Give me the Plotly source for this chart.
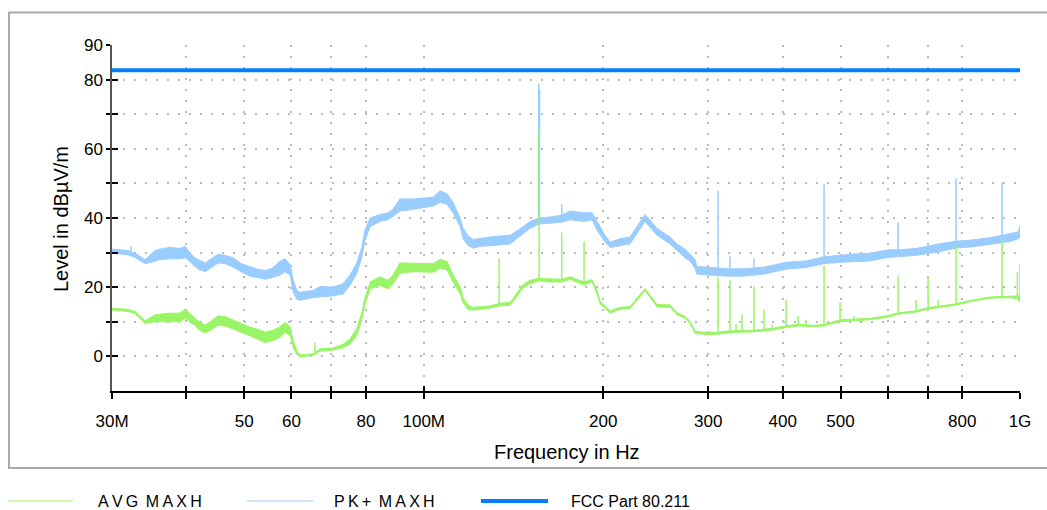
import math
import plotly.graph_objects as go

# ---------------- data ----------------
# PK+ MAXH trace: frequency (MHz), lower / upper edge of the noisy band (dBuV/m)
pk_freq = [30.0, 30.9, 31.9, 32.8, 34.1, 35.4, 36.1, 37.5, 39.0, 39.8,
           40.5, 41.3, 42.1, 43.0, 43.8, 45.2, 46.4, 47.9, 49.4, 51.1,
           52.7, 54.2, 55.7, 57.4, 58.5, 59.7, 60.4, 61.3, 62.0, 63.2,
           65.2, 67.0, 70.4, 73.2, 75.2, 77.2, 78.7, 79.7, 81.3, 84.5,
           87.1, 88.8, 91.2, 96.0, 99.7, 103.7, 106.5, 109.4, 112.0, 115.1,
           116.4, 118.7, 121.0, 124.3, 129.2, 134.3, 139.6, 146.8, 150.8, 154.9,
           157.3, 162.9, 170.4, 176.0, 185.7, 191.6, 195.3, 201.4, 205.4, 213.4,
           221.8, 235.0, 246.2, 258.9, 266.0, 274.3, 279.7, 285.2, 287.0, 300.0,
           311.6, 326.3, 341.8, 358.0, 372.0, 384.0, 405.0, 438.0, 469.0, 499.0,
           527.0, 560.0, 600.0, 625.0, 670.0, 729.0, 781.0, 825.0, 891.0, 933.0,
           962.0, 993.0, 1000.0]
pk_low = [29.8, 29.6, 29.4, 28.6, 26.8, 27.5, 28.0, 28.2, 28.2, 28.5,
          27.5, 26.0, 25.0, 24.5, 25.5, 27.0, 26.8, 25.8, 24.5, 23.2,
          22.8, 22.3, 22.8, 23.5, 24.5, 23.5, 18.5, 16.5, 16.2, 16.5,
          17.0, 17.2, 17.5, 18.0, 20.5, 24.0, 28.5, 33.5, 37.5, 39.0,
          39.5, 40.5, 42.0, 42.5, 43.0, 43.5, 44.5, 44.0, 41.5, 37.5,
          34.0, 32.0, 31.3, 31.8, 32.0, 32.3, 32.5, 35.5, 37.0, 38.0,
          38.3, 38.5, 38.8, 39.5, 39.0, 39.5, 36.5, 33.0, 31.5, 32.0,
          32.5, 39.0, 35.0, 32.5, 30.5, 28.5, 27.5, 25.5, 23.8, 23.5,
          23.3, 23.2, 23.2, 23.5, 23.8, 24.3, 25.2, 25.7, 26.8, 27.2,
          27.4, 27.6, 28.6, 28.8, 29.2, 30.2, 31.3, 31.6, 32.5, 33.0,
          33.2, 34.0, 34.4]
pk_high = [31.0, 30.8, 30.6, 29.8, 28.0, 30.5, 31.0, 31.5, 31.2, 31.8,
           30.0, 28.5, 27.8, 27.0, 28.0, 29.5, 29.2, 28.5, 26.8, 26.0,
           25.2, 24.8, 25.5, 27.5, 28.2, 26.5, 22.0, 19.0, 18.5, 18.8,
           19.0, 20.2, 20.0, 21.0, 23.5, 27.0, 31.5, 36.5, 40.0, 41.0,
           41.5, 42.5, 45.5, 45.5, 45.8, 46.0, 47.9, 47.0, 44.5, 40.0,
           37.0, 34.8, 33.8, 34.0, 34.5, 34.8, 35.0, 37.5, 39.0, 39.8,
           40.0, 40.3, 40.8, 42.0, 41.5, 41.5, 39.0, 35.0, 33.0, 34.0,
           34.5, 41.0, 37.0, 34.5, 32.5, 31.0, 29.5, 28.0, 26.0, 25.7,
           25.5, 25.3, 25.3, 25.5, 25.8, 26.3, 27.2, 27.6, 28.8, 29.2,
           29.6, 29.8, 30.8, 30.8, 31.2, 32.5, 33.3, 33.6, 34.3, 35.0,
           35.5, 36.0, 37.7]
# PK+ narrow spikes: frequency (MHz), foot and top level
pk_spike_freq = [32.3, 155.9, 156.4, 170.4, 311.6, 326.3, 358.0, 469.2, 624.5, 781.2, 933.0]
pk_spike_base = [30.4, 39.8, 39.8, 40.8, 25.5, 25.3, 25.5, 28.8, 30.8, 33.3, 35.0]
pk_spike_top = [31.8, 78.7, 77.0, 44.0, 47.9, 28.9, 28.3, 49.8, 38.7, 51.4, 50.3]

# AVG MAXH trace
avg_freq = [30.0, 30.9, 31.9, 32.8, 34.1, 35.4, 36.1, 37.5, 39.0, 39.8,
            40.5, 41.3, 42.1, 43.0, 43.8, 45.2, 46.4, 47.9, 49.4, 51.1,
            52.7, 54.2, 55.7, 57.4, 58.5, 59.7, 60.4, 61.3, 62.0, 63.2,
            65.2, 67.0, 70.4, 73.2, 75.2, 77.2, 78.7, 79.7, 81.3, 84.5,
            87.1, 88.8, 91.2, 96.0, 99.7, 103.7, 106.5, 109.4, 112.0, 115.1,
            116.4, 118.7, 121.0, 124.3, 129.2, 134.3, 139.6, 146.8, 150.8, 154.9,
            157.3, 162.9, 170.4, 176.0, 185.7, 191.6, 195.3, 197.6, 201.4, 205.4,
            213.4, 221.8, 235.0, 246.2, 258.9, 266.0, 274.3, 279.7, 285.2, 300.0,
            311.6, 326.3, 358.0, 384.0, 405.0, 424.0, 450.0, 469.0, 499.0, 527.0,
            560.0, 600.0, 625.0, 670.0, 701.0, 781.0, 825.0, 891.0, 962.0, 993.0,
            1000.0]
avg_low = [13.4, 13.3, 13.0, 12.3, 9.5, 10.0, 10.0, 10.2, 10.0, 11.0,
           10.0, 9.0, 7.5, 6.8, 7.5, 9.0, 8.8, 8.0, 7.0, 6.0,
           5.0, 4.0, 4.5, 5.5, 7.0, 6.0, 2.5, 0.5, -0.2, 0.0,
           0.3, 1.5, 1.8, 2.5, 3.5, 6.0, 10.5, 15.0, 19.5, 20.5,
           19.5, 21.0, 24.0, 24.5, 24.5, 24.3, 25.5, 25.0, 21.5, 18.0,
           15.5, 13.5, 13.4, 13.6, 14.0, 14.6, 14.8, 19.8, 21.0, 21.7,
           21.8, 21.5, 21.5, 22.3, 20.6, 21.5, 18.0, 15.2, 13.8, 12.5,
           13.6, 13.8, 19.0, 14.3, 14.2, 12.0, 11.0, 9.5, 6.6, 6.3,
           6.4, 6.9, 7.1, 7.6, 8.3, 8.8, 8.6, 8.8, 10.0, 10.3,
           10.6, 11.3, 12.2, 12.8, 13.7, 14.8, 15.8, 16.8, 17.0, 16.5,
           15.5]
avg_high = [13.9, 13.8, 13.6, 13.0, 10.3, 12.0, 12.2, 12.5, 12.5, 13.7,
            12.5, 11.0, 10.0, 9.0, 10.0, 11.7, 11.5, 10.5, 9.5, 8.5,
            7.8, 7.0, 7.5, 8.5, 9.8, 8.5, 4.5, 1.5, 0.5, 0.5,
            0.8, 2.2, 2.4, 3.5, 5.0, 8.0, 12.5, 17.0, 21.5, 23.0,
            22.0, 23.5, 27.0, 27.0, 27.0, 26.8, 28.1, 27.5, 23.5, 20.0,
            17.0, 14.8, 14.2, 14.3, 14.6, 15.4, 15.6, 20.8, 22.0, 22.5,
            22.5, 22.3, 22.3, 23.0, 21.5, 22.2, 19.0, 16.0, 14.6, 13.2,
            14.2, 14.4, 19.6, 15.0, 14.9, 12.6, 11.6, 10.1, 7.2, 6.9,
            7.0, 7.4, 7.6, 8.1, 8.8, 9.3, 9.0, 9.2, 10.6, 10.8,
            11.0, 11.8, 12.6, 13.2, 14.1, 15.2, 16.2, 17.2, 17.5, 17.5,
            17.5]
avg_spike_freq = [65.7, 133.8, 156.1, 170.4, 185.7, 311.6, 326.3, 334.0, 341.8, 358.0,
                  372.1, 383.8, 405.2, 424.4, 437.7, 469.2, 499.1, 526.8, 624.5, 669.5,
                  701.2, 728.9, 781.2, 933.0, 990.0, 1000.0]
avg_spike_base = [0.8, 14.6, 22.3, 22.3, 21.5, 7.0, 7.4, 7.4, 7.5, 7.6,
                  7.8, 8.1, 8.8, 9.3, 9.3, 9.2, 10.6, 10.8, 12.6, 13.2,
                  14.1, 14.3, 15.2, 17.3, 17.0, 16.5]
avg_spike_top = [4.0, 28.3, 65.7, 35.8, 33.1, 22.8, 22.0, 9.3, 12.2, 20.2,
                 13.4, 9.2, 16.3, 11.7, 10.6, 26.2, 15.6, 11.7, 23.1, 16.3,
                 22.6, 16.3, 32.0, 33.4, 24.4, 26.7]

# FCC limit line
fcc_freq = [30.0, 1000.0]
fcc_level = [82.7, 82.7]

# axes
x_tick_mhz = [30, 40, 50, 60, 70, 80, 100, 200, 300, 400, 500, 600, 700, 800, 1000]
x_tick_text = ["30M", "", "50", "60", "", "80", "100M", "200", "300", "400", "500", "", "", "800", "1G"]
y_tick_vals = [0, 10, 20, 30, 40, 50, 60, 70, 80, 90]
y_tick_text = ["0", "", "20", "", "40", "", "60", "", "80", "90"]

assert len(pk_freq) == len(pk_low) == len(pk_high)
assert len(avg_freq) == len(avg_low) == len(avg_high)
assert len(pk_spike_freq) == len(pk_spike_base) == len(pk_spike_top)
assert len(avg_spike_freq) == len(avg_spike_base) == len(avg_spike_top)

# ---------------- styling ----------------
BLUE = "#99ccff"
GREEN = "#99f566"
FCC = "#0080ff"
FONT = "Liberation Sans, Arial, sans-serif"
W, H = 1047, 510
L, R, T, B = 112, 27, 45, 119
PW, PH = W - L - R, H - T - B


def hz(v):
    return [f * 1e6 for f in v]


def px(xp):
    return (xp - L) / PW


def py(yp):
    return (H - B - yp) / PH


def spikes(freq, base, top):
    xs, ys = [], []
    for f, b, t in zip(freq, base, top):
        xs += [f * 1e6, f * 1e6, None]
        ys += [b, t, None]
    return xs, ys


fig = go.Figure()

# PK+ band
fig.add_trace(go.Scatter(x=hz(pk_freq), y=pk_low, mode="lines",
                         line=dict(color=BLUE, width=1), hoverinfo="skip", showlegend=False))
fig.add_trace(go.Scatter(x=hz(pk_freq), y=pk_high, mode="lines", fill="tonexty",
                         fillcolor=BLUE, line=dict(color=BLUE, width=1),
                         name="PK+ MAXH", showlegend=False))
sx, sy = spikes(pk_spike_freq, pk_spike_base, pk_spike_top)
fig.add_trace(go.Scatter(x=sx, y=sy, mode="lines", line=dict(color=BLUE, width=1.5),
                         hoverinfo="skip", showlegend=False))

# AVG band
fig.add_trace(go.Scatter(x=hz(avg_freq), y=avg_low, mode="lines",
                         line=dict(color=GREEN, width=1), hoverinfo="skip", showlegend=False))
fig.add_trace(go.Scatter(x=hz(avg_freq), y=avg_high, mode="lines", fill="tonexty",
                         fillcolor=GREEN, line=dict(color=GREEN, width=1),
                         name="AVG MAXH", showlegend=False))
sx, sy = spikes(avg_spike_freq, avg_spike_base, avg_spike_top)
fig.add_trace(go.Scatter(x=sx, y=sy, mode="lines", line=dict(color=GREEN, width=1.5),
                         hoverinfo="skip", showlegend=False))

# FCC limit
fig.add_trace(go.Scatter(x=hz(fcc_freq), y=fcc_level, mode="lines",
                         line=dict(color=FCC, width=4), name="FCC Part 80.211", showlegend=False))

# dummy trace for overlay axes (inner half of the crossing ticks)
fig.add_trace(go.Scatter(x=[None], y=[None], xaxis="x2", yaxis="y2",
                         showlegend=False, hoverinfo="skip"))

xr = [math.log10(30e6), math.log10(1e9)]
grid = dict(showgrid=True, gridcolor="#bcbcbc", gridwidth=2, griddash="2px,9px")

fig.update_layout(
    width=W, height=H,
    margin=dict(l=L, r=R, t=T, b=B),
    paper_bgcolor="white", plot_bgcolor="white",
    font=dict(family=FONT, size=17, color="black"),
    showlegend=False,
    xaxis=dict(type="log", range=xr, tickmode="array",
               tickvals=hz(x_tick_mhz), ticktext=x_tick_text,
               ticks="outside", ticklen=6, tickwidth=1.5, tickcolor="black",
               ticklabelstandoff=8,
               showline=True, linecolor="black", linewidth=1.5, zeroline=False,
               tickfont=dict(family=FONT, size=17), **grid),
    yaxis=dict(range=[-10, 90], tickmode="array", tickvals=y_tick_vals, ticktext=y_tick_text,
               ticks="outside", ticklen=4, tickwidth=1.5, tickcolor="black",
               showline=True, linecolor="#555555", linewidth=1.5, zeroline=False,
               tickfont=dict(family=FONT, size=17), **grid),
    xaxis2=dict(type="log", range=xr, overlaying="x", anchor="y2", tickmode="array",
                tickvals=hz(x_tick_mhz), ticks="inside", ticklen=5, tickwidth=1.5,
                tickcolor="black", showticklabels=False, showgrid=False,
                showline=False, zeroline=False),
    yaxis2=dict(range=[-10, 90], overlaying="y", anchor="x2", tickmode="array",
                tickvals=y_tick_vals, ticks="inside", ticklen=6, tickwidth=1.5,
                tickcolor="black", showticklabels=False, showgrid=False,
                showline=False, zeroline=False),
)

shapes = [
    # outer frame
    dict(type="rect", xref="paper", yref="paper", x0=px(9), x1=px(1050), y0=py(468), y1=py(12.5),
         line=dict(color="#aaaaaa", width=2), fillcolor="rgba(0,0,0,0)", layer="below"),
    # legend samples
    dict(type="line", xref="paper", yref="paper", x0=px(8), x1=px(73), y0=py(501), y1=py(501),
         line=dict(color=GREEN, width=1.2)),
    dict(type="line", xref="paper", yref="paper", x0=px(247), x1=px(313), y0=py(501), y1=py(501),
         line=dict(color=BLUE, width=1.2)),
    dict(type="line", xref="paper", yref="paper", x0=px(481), x1=px(548), y0=py(501), y1=py(501),
         line=dict(color=FCC, width=4)),
]
annotations = [
    dict(text="Frequency in Hz", xref="paper", yref="paper", x=px(567), y=py(452),
         xanchor="center", yanchor="middle", showarrow=False, font=dict(family=FONT, size=20)),
    dict(text="Level in dBµV/m", xref="paper", yref="paper", x=px(61), y=py(219),
         xanchor="center", yanchor="middle", textangle=-90, showarrow=False,
         font=dict(family=FONT, size=20)),
    dict(text="A\u2009V\u2009G\u2009 M\u2009A\u2009X\u2009H", xref="paper", yref="paper", x=px(96), y=py(501),
         xanchor="left", yanchor="middle", showarrow=False, font=dict(family=FONT, size=16)),
    dict(text="P\u2009K\u2009+\u2009 M\u2009A\u2009X\u2009H", xref="paper", yref="paper", x=px(332), y=py(501),
         xanchor="left", yanchor="middle", showarrow=False, font=dict(family=FONT, size=16)),
    dict(text="FCC Part 80.211", xref="paper", yref="paper", x=px(569), y=py(501),
         xanchor="left", yanchor="middle", showarrow=False, font=dict(family=FONT, size=16)),
]
fig.update_layout(shapes=shapes, annotations=annotations)

fig.write_html("out.html", config={"displayModeBar": False},
               post_script="document.body.style.margin='0';document.body.style.overflow='hidden';")
